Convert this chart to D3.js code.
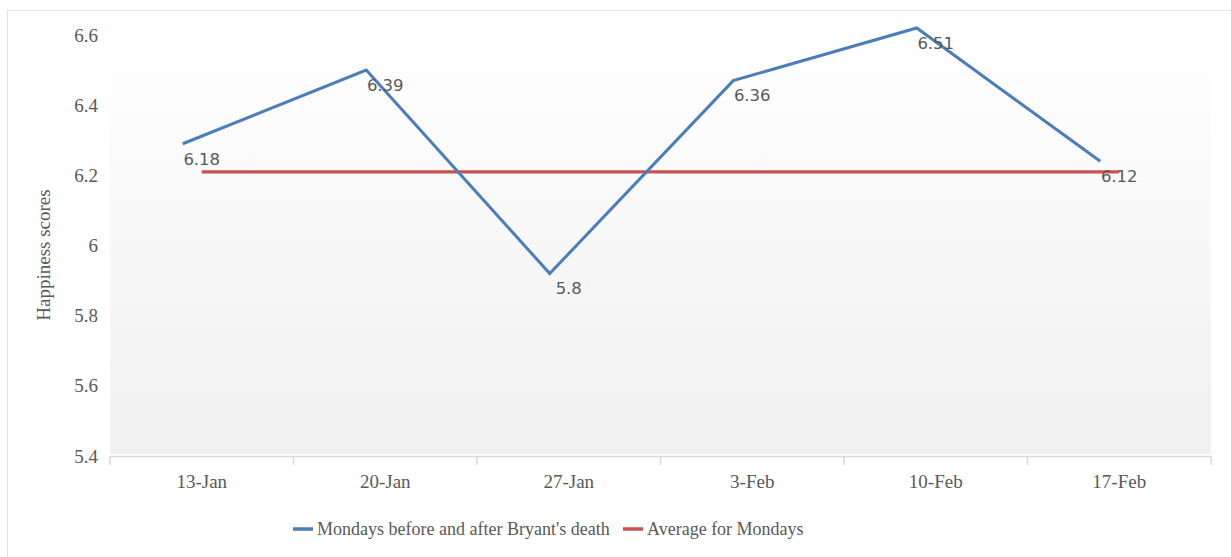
<!DOCTYPE html>
<html>
<head>
<meta charset="utf-8">
<script src="https://cdn.jsdelivr.net/npm/d3@7.9.0/dist/d3.min.js"></script>
<style>
  body { margin: 0; background: #fff; }
  svg { display: block; }
</style>
</head>
<body>
<svg id="chart" width="1231" height="557"></svg>
<script>
// -------------------------
// Data
// -------------------------
const categories = ['13-Jan', '20-Jan', '27-Jan', '3-Feb', '10-Feb', '17-Feb'];
const mondayScores = [6.29, 6.50, 5.92, 6.47, 6.62, 6.24];
const mondayLabels = ['6.18', '6.39', '5.8', '6.36', '6.51', '6.12'];
const averageScores = [6.21, 6.21, 6.21, 6.21, 6.21, 6.21];
const yTicks = [5.4, 5.6, 5.8, 6, 6.2, 6.4, 6.6];
const seriesNames = ["Mondays before and after Bryant's death", 'Average for Mondays'];

const blue = '#4a7ebb';
const red = '#c9504e';
const textColor = '#595959';
const serif = "'Liberation Serif', 'DejaVu Serif', serif";
const sans = "'DejaVu Sans', sans-serif";

// -------------------------
// Layout / scales
// -------------------------
const plot = { left: 110, right: 1211, top: 35, bottom: 456 };

const x = d3.scaleBand().domain(categories).range([plot.left, plot.right]).padding(0);
const y = d3.scaleLinear().domain([5.4, 6.6]).range([plot.bottom, plot.top]);

const svg = d3.select('#chart');

// outer frame
svg.append('path')
  .attr('d', 'M7.5,557 V10.5 H1231')
  .attr('fill', 'none')
  .attr('stroke', '#e3e3e3')
  .attr('stroke-width', 1);

// plot background gradient
const defs = svg.append('defs');
const grad = defs.append('linearGradient')
  .attr('id', 'bg').attr('x1', 0).attr('y1', 0).attr('x2', 0).attr('y2', 1);
grad.append('stop').attr('offset', '0%').attr('stop-color', '#ffffff');
grad.append('stop').attr('offset', '100%').attr('stop-color', '#f0f0f0');

svg.append('rect')
  .attr('x', plot.left)
  .attr('y', plot.top - 3)
  .attr('width', plot.right - plot.left)
  .attr('height', plot.bottom - plot.top + 1)
  .attr('fill', 'url(#bg)');

// -------------------------
// Axes
// -------------------------
const yAxis = svg.append('g')
  .attr('transform', `translate(${plot.left - 12},0)`)
  .call(d3.axisLeft(y).tickValues(yTicks).tickSize(0).tickPadding(0)
    .tickFormat(d => d3.format('~g')(d)));
yAxis.select('.domain').remove();
yAxis.selectAll('text')
  .attr('font-family', serif)
  .attr('font-size', 19)
  .attr('fill', textColor);

const xAxis = svg.append('g')
  .attr('transform', `translate(0,${plot.bottom})`)
  .call(d3.axisBottom(x).tickSize(0).tickPadding(19));
xAxis.select('.domain')
  .attr('stroke', '#d9d9d9')
  .attr('stroke-width', 1.5);
xAxis.selectAll('text')
  .attr('font-family', serif)
  .attr('font-size', 19)
  .attr('fill', textColor);

// tick marks at category boundaries
const boundaries = categories.map(c => x(c)).concat([x.range()[1]]);
xAxis.selectAll('line.boundary')
  .data(boundaries)
  .join('line')
  .attr('class', 'boundary')
  .attr('x1', d => d).attr('x2', d => d)
  .attr('y1', 0).attr('y2', 9)
  .attr('stroke', '#d9d9d9')
  .attr('stroke-width', 1.5);

// y axis title
svg.append('text')
  .attr('transform', `translate(50,255) rotate(-90)`)
  .attr('text-anchor', 'middle')
  .attr('font-family', serif)
  .attr('font-size', 19)
  .attr('fill', textColor)
  .text('Happiness scores');

// -------------------------
// Series
// -------------------------
const center = c => x(c) + x.bandwidth() / 2;

const avgLine = d3.line()
  .x((d, i) => center(categories[i]))
  .y(d => y(d));

svg.append('path')
  .datum(averageScores)
  .attr('d', avgLine)
  .attr('fill', 'none')
  .attr('stroke', red)
  .attr('stroke-width', 3.2);

const mondayLine = d3.line()
  .x((d, i) => center(categories[i]))
  .y(d => y(d));

svg.append('path')
  .datum(mondayScores)
  .attr('d', mondayLine)
  .attr('transform', 'translate(-19,0)')
  .attr('fill', 'none')
  .attr('stroke', blue)
  .attr('stroke-width', 3)
  .attr('stroke-linejoin', 'miter');

// data labels
svg.append('g')
  .selectAll('text')
  .data(mondayScores)
  .join('text')
  .attr('x', (d, i) => center(categories[i]))
  .attr('y', d => y(d) + 15)
  .attr('dy', '0.35em')
  .attr('text-anchor', 'middle')
  .attr('font-family', sans)
  .attr('font-size', 16.5)
  .attr('fill', textColor)
  .text((d, i) => mondayLabels[i]);

// -------------------------
// Legend
// -------------------------
const legend = svg.append('g').attr('transform', 'translate(293,529)');
const legendItems = [
  { name: seriesNames[0], color: blue, x: 0 },
  { name: seriesNames[1], color: red, x: 330 }
];
legendItems.forEach(item => {
  const g = legend.append('g').attr('transform', `translate(${item.x},0)`);
  g.append('line')
    .attr('x1', 0).attr('x2', 20)
    .attr('y1', 0).attr('y2', 0)
    .attr('stroke', item.color)
    .attr('stroke-width', 3.5);
  g.append('text')
    .attr('x', 24)
    .attr('dy', '0.33em')
    .attr('font-family', serif)
    .attr('font-size', 18)
    .attr('fill', textColor)
    .text(item.name);
});
</script>
</body>
</html>
